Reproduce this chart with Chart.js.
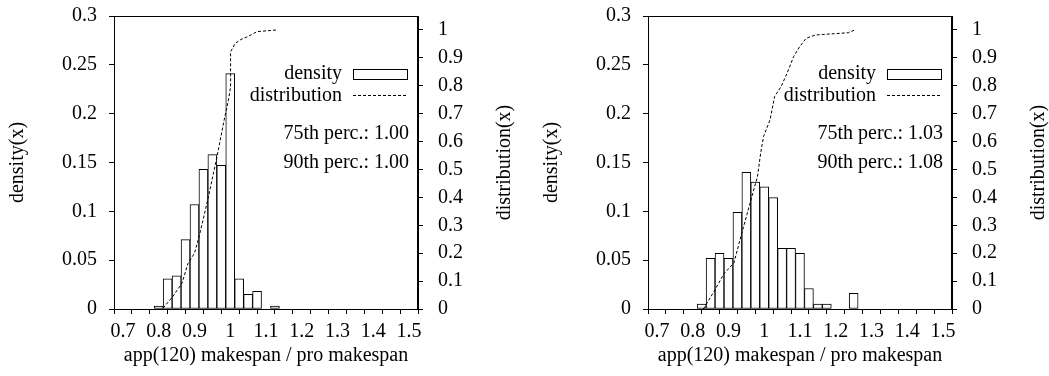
<!DOCTYPE html>
<html>
<head>
<meta charset="utf-8">
<script src="https://cdn.jsdelivr.net/npm/chart.js@4"></script>
<style>
    html, body { margin: 0; padding: 0; background: #fff; }
    body { width: 1049px; height: 376px; position: relative; overflow: hidden; }
    .box { position: absolute; top: 0; width: 515px; height: 376px; }
    #boxLeft { left: 0; }
    #boxRight { left: 534px; }
</style>
</head>
<body>
<div class="box" id="boxLeft"><canvas id="chartLeft"></canvas></div>
<div class="box" id="boxRight"><canvas id="chartRight"></canvas></div>
<script>
// histogram bins (bin centres, width 0.025)
const leftBins = [0.8, 0.825, 0.85, 0.875, 0.9, 0.925, 0.95, 0.975, 1.0, 1.025, 1.05, 1.075, 1.1, 1.125];
const leftDensity = [0.003, 0.031, 0.034, 0.071, 0.107, 0.143, 0.158, 0.147, 0.241, 0.031, 0.015, 0.018, 0, 0.003];

const rightBins = [0.825, 0.85, 0.875, 0.9, 0.925, 0.95, 0.975, 1.0, 1.025, 1.05, 1.075, 1.1, 1.125, 1.15, 1.175, 1.2, 1.225, 1.25];
const rightDensity = [0.005, 0.052, 0.057, 0.052, 0.099, 0.14, 0.13, 0.125, 0.114, 0.062, 0.062, 0.057, 0.021, 0.005, 0.005, 0, 0, 0.016];

// cumulative distribution curves
const leftCdfX = [0.812, 0.839, 0.865, 0.882, 0.9, 0.913, 0.939, 0.963, 0.983, 0.995, 1.001, 1.001, 1.014, 1.03, 1.049, 1.075, 1.13];
const leftCdfY = [0.003, 0.044, 0.092, 0.164, 0.2, 0.259, 0.402, 0.546, 0.677, 0.749, 0.797, 0.922, 0.952, 0.966, 0.976, 0.994, 1.0];

const rightCdfX = [0.83, 0.862, 0.888, 0.915, 0.937, 0.95, 0.968, 0.981, 0.99, 0.998, 1.016, 1.029, 1.047, 1.064, 1.082, 1.099, 1.117, 1.143, 1.235, 1.253];
const rightCdfY = [0.0, 0.068, 0.128, 0.164, 0.271, 0.331, 0.415, 0.474, 0.558, 0.618, 0.677, 0.761, 0.797, 0.845, 0.904, 0.94, 0.97, 0.982, 0.99, 1.0];

const perc75 = ["1.00", "1.03"];
const perc90 = ["1.00", "1.08"];

const xTitle = "app(120) makespan / pro makespan";
const fontFamily = "'Liberation Serif', 'DejaVu Serif', serif";
const fontSize = 20;

// frame, legend, percentile notes and the right axis title (reads bottom-up like gnuplot)
const annotations = {
    id: "annotations",
    afterDatasetsDraw(chart, args, opts) {
        const c = chart.ctx;
        const a = chart.chartArea;
        c.save();
        c.strokeStyle = "#000";
        c.lineWidth = 1;
        c.strokeRect(a.left + 0.5, a.top + 0.5, a.right - a.left - 1, a.bottom - a.top);

        c.font = fontSize + "px " + fontFamily;
        c.fillStyle = "#000";
        c.textAlign = "right";
        c.textBaseline = "middle";
        const keyLeft = a.right - 65;
        const keyRight = a.right - 11;
        c.fillText("density", keyLeft - 11, 74);
        c.strokeRect(keyLeft + 0.5, 69.5, keyRight - keyLeft, 10);
        c.fillText("distribution", keyLeft - 11, 96);
        c.setLineDash([3, 2]);
        c.beginPath();
        c.moveTo(keyLeft, 95.5);
        c.lineTo(keyRight, 95.5);
        c.stroke();
        c.setLineDash([]);
        c.fillText("75th perc.: " + opts.p75, keyRight + 2, 134);
        c.fillText("90th perc.: " + opts.p90, keyRight + 2, 163);

        c.translate(a.right + 87, (a.top + a.bottom) / 2);
        c.rotate(-Math.PI / 2);
        c.textAlign = "center";
        c.fillText("distribution(x)", 0, 0);
        c.restore();
    },
};

function noPad(s) {
    s.paddingTop = 0;
    s.paddingBottom = 0;
    s.paddingLeft = 0;
    s.paddingRight = 0;
}

function makeChart(id, bins, density, cdfX, cdfY, p75, p90) {
    const ctx = document.getElementById(id).getContext("2d");
    return new Chart(ctx, {
        type: "bar",
        data: {
            datasets: [
                {
                    type: "line",
                    label: "distribution",
                    data: cdfX.map((x, i) => ({ x: x, y: cdfY[i] })),
                    yAxisID: "y2",
                    borderColor: "#000",
                    borderWidth: 1,
                    borderDash: [3, 2],
                    pointRadius: 0,
                    tension: 0,
                    fill: false,
                    order: 0,
                },
                {
                    label: "density",
                    data: bins.map((x, i) => ({ x: x, y: density[i] })),
                    yAxisID: "y",
                    backgroundColor: "#fff",
                    borderColor: "#000",
                    borderWidth: 1,
                    borderSkipped: false,
                    barPercentage: 1,
                    categoryPercentage: 1,
                    order: 1,
                },
            ],
        },
        options: {
            responsive: true,
            maintainAspectRatio: false,
            animation: false,
            events: [],
            layout: { padding: { top: 16, left: 0, right: 0, bottom: 0 } },
            scales: {
                x: {
                    type: "linear",
                    min: 0.7,
                    max: 1.5,
                    afterFit: (s) => { s.height = 67; noPad(s); },
                    grid: { drawOnChartArea: false, tickLength: 5, color: "#000" },
                    border: { color: "#000" },
                    ticks: {
                        stepSize: 0.05,
                        autoSkip: false,
                        maxRotation: 0,
                        padding: 6,
                        color: "#000",
                        font: { family: fontFamily, size: fontSize },
                        callback: (v) => (Math.round(v * 20) % 2 === 0 ? String(Math.round(v * 10) / 10) : ""),
                    },
                    title: {
                        display: true,
                        text: xTitle,
                        color: "#000",
                        font: { family: fontFamily, size: fontSize },
                        padding: { top: 0, bottom: 8 },
                    },
                },
                y: {
                    position: "left",
                    min: 0,
                    max: 0.3,
                    afterFit: (s) => { s.width = 114; noPad(s); },
                    grid: { drawOnChartArea: false, tickLength: 5, color: "#000" },
                    border: { color: "#000" },
                    ticks: {
                        stepSize: 0.05,
                        padding: 12,
                        color: "#000",
                        font: { family: fontFamily, size: fontSize },
                        callback: (v) => String(Math.round(v * 100) / 100),
                    },
                    title: {
                        display: true,
                        text: "density(x)",
                        color: "#000",
                        font: { family: fontFamily, size: fontSize },
                        padding: { top: 6, bottom: 0 },
                    },
                },
                y2: {
                    position: "right",
                    min: 0,
                    max: 1.05,
                    afterFit: (s) => { s.width = 97; noPad(s); },
                    grid: { drawOnChartArea: false, tickLength: 5, color: "#000" },
                    border: { color: "#000" },
                    ticks: {
                        stepSize: 0.1,
                        includeBounds: false,
                        padding: 15,
                        color: "#000",
                        font: { family: fontFamily, size: fontSize },
                        callback: (v) => String(Math.round(v * 10) / 10),
                    },
                },
            },
            plugins: {
                legend: { display: false },
                tooltip: { enabled: false },
                annotations: { p75: p75, p90: p90 },
            },
        },
        plugins: [annotations],
    });
}

document.addEventListener("DOMContentLoaded", function () {
    makeChart("chartLeft", leftBins, leftDensity, leftCdfX, leftCdfY, perc75[0], perc90[0]);
    makeChart("chartRight", rightBins, rightDensity, rightCdfX, rightCdfY, perc75[1], perc90[1]);
});
</script>
</body>
</html>
